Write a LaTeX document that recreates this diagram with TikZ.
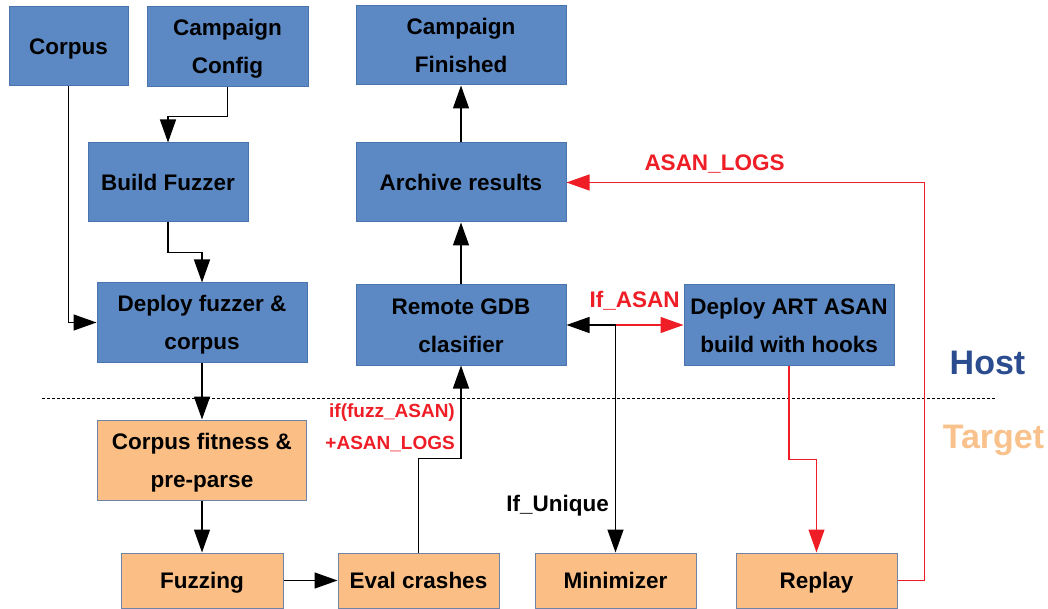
\documentclass[tikz,border=0pt]{standalone}
\usepackage{fontspec}
\setmainfont{Liberation Sans}
\usetikzlibrary{arrows.meta}

\definecolor{boxblue}{HTML}{5C89C4}
\definecolor{boxblueline}{HTML}{4A74AE}
\definecolor{boxorange}{HTML}{FBBE84}
\definecolor{boxorangeline}{HTML}{6E83A6}
\definecolor{flowred}{HTML}{EE1D26}
\definecolor{hosttext}{HTML}{2B4C8E}
\definecolor{targettext}{HTML}{F9C28C}

% struts so that every one-line box text is centred on its capitals
\newcommand{\topstrut}{\rule{0pt}{21.5pt}}
\newcommand{\botstrut}{\rule[-4.8pt]{0pt}{4.8pt}}

\tikzset{
  boxtext/.style={font=\bfseries\fontsize{22.5}{38}\selectfont, align=center, inner sep=0pt,
    execute at begin node=\topstrut, execute at end node=\botstrut},
  twoline/.style={text height=58.8pt, text depth=4.8pt},
  hostbox/.style={boxtext, rectangle, fill=boxblue, draw=boxblueline, line width=1pt},
  targetbox/.style={boxtext, rectangle, fill=boxorange, draw=boxorangeline, line width=1pt},
  arr/.style={draw=black, line width=1.4pt, -{Triangle[length=23pt,width=16pt]}},
  biarr/.style={draw=black, line width=1.4pt, {Triangle[length=23pt,width=16pt]}-{Triangle[length=23pt,width=16pt]}},
  redarr/.style={draw=flowred, line width=1.1pt, -{Triangle[length=23pt,width=16pt]}},
  redlabel/.style={text=flowred, font=\bfseries\fontsize{22.5}{26}\selectfont, inner sep=0pt},
  smallredlabel/.style={text=flowred, font=\bfseries\fontsize{19}{22}\selectfont, inner sep=0pt},
  blacklabel/.style={text=black, font=\bfseries\fontsize{22.5}{26}\selectfont, inner sep=0pt},
}

\begin{document}
\begin{tikzpicture}[x=1pt, y=-1pt]
\useasboundingbox (0,0) rectangle (1048,609);
\fill[white] (0,0) rectangle (1048,609);

% host side
\node[hostbox, minimum width=119pt, minimum height=79pt] (corpus) at (68.5,46.5) {Corpus};
\node[hostbox, twoline, minimum width=161pt, minimum height=80pt] (config) at (227.5,47) {Campaign\\Config};
\node[hostbox, minimum width=160pt, minimum height=79pt] (build) at (168,182.5) {Build Fuzzer};
\node[hostbox, twoline, minimum width=210pt, minimum height=79pt] (deploy) at (202,322.5) {Deploy fuzzer \&\\corpus};
\node[hostbox, twoline, minimum width=210pt, minimum height=79pt] (finished) at (461,45.5) {Campaign\\Finished};
\node[hostbox, minimum width=210pt, minimum height=79pt] (archive) at (461,182.5) {Archive results};
\node[hostbox, twoline, minimum width=210pt, minimum height=80pt] (gdb) at (461,325) {Remote GDB\\clasifier};
\node[hostbox, twoline, minimum width=210pt, minimum height=80pt] (art) at (789,325) {Deploy ART ASAN\\build with hooks};

% target side
\node[targetbox, twoline, minimum width=209pt, minimum height=80pt] (fitness) at (202,460) {Corpus fitness \&\\pre-parse};
\node[targetbox, minimum width=162pt, minimum height=55pt] (fuzzing) at (202,580.5) {Fuzzing};
\node[targetbox, minimum width=161pt, minimum height=55pt] (eval) at (418.5,580.5) {Eval crashes};
\node[targetbox, minimum width=161pt, minimum height=55pt] (minim) at (615.5,580.5) {Minimizer};
\node[targetbox, minimum width=161pt, minimum height=55pt] (replay) at (816.5,580.5) {Replay};

% host / target boundary
\coordinate (sepL) at (42,398);
\coordinate (sepR) at (995,398);
\draw[black, line width=0.8pt, dash pattern=on 3pt off 2pt] (sepL) -- (sepR);
\node[font=\bfseries\fontsize{34}{40}\selectfont, text=hosttext, inner sep=0pt] (host) at (987.5,363) {Host};
\node[font=\bfseries\fontsize{34}{40}\selectfont, text=targettext, inner sep=0pt] (target) at (993.5,440) {Target};

% main flow
\draw[arr] (corpus.south) |- (deploy.west);
\draw[arr] (config.south) -- ++(0,29) -| (build.north);
\draw[arr] (build.south) -- ++(0,30) -| (deploy.north);
\draw[arr] (deploy.south) -- (fitness.north);
\draw[arr] (fitness.south) -- (fuzzing.north);
\draw[arr] (fuzzing.east) -- (eval.west);
\draw[arr] (eval.north) -- ++(0,-94) -| (gdb.south);
\draw[arr] (gdb.north) -- (archive.south);
\draw[arr] (archive.north) -- (finished.south);
\draw[biarr] (gdb.east) -| (minim.north);

% ASAN path
\coordinate (split) at (gdb.east -| minim.north);
\draw[redarr] (split) -- (art.west);
\draw[redarr] (art.south) -- ++(0,94) -| (replay.north);
\draw[redarr] (replay.east) -- ++(27,0) |- (archive.east);

% labels
\node[redlabel] (ifasan) at (634.5,301) {If\_ASAN};
\node[redlabel] (asanlogs) at (714.5,164) {ASAN\_LOGS};
\node[blacklabel] (ifunique) at (557.5,506) {If\_Unique};
\node[smallredlabel, anchor=east] (iffuzz) at (455,413) {if(fuzz\_ASAN)};
\node[smallredlabel, anchor=east] (pluslogs) at (455,444) {+ASAN\_LOGS};
\end{tikzpicture}
\end{document}
